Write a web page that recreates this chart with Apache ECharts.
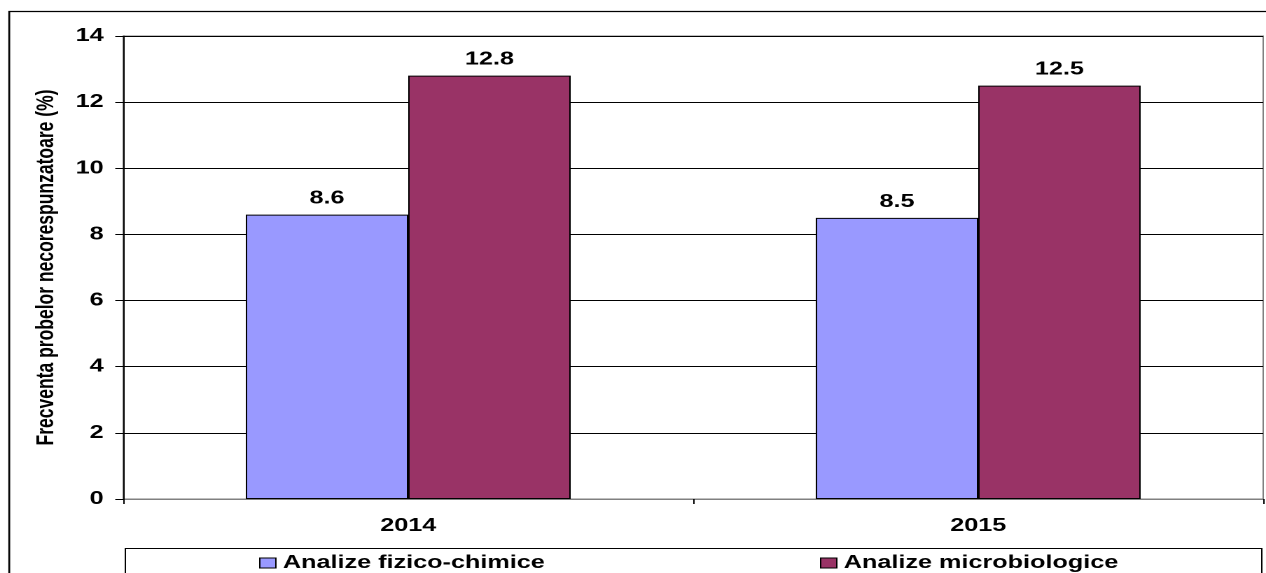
<!DOCTYPE html>
<html>
<head>
<meta charset="utf-8">
<script src="https://cdn.jsdelivr.net/npm/echarts@6/dist/echarts.min.js"></script>
<style>
  html, body { margin: 0; padding: 0; background: #fff; overflow: hidden; }
  /* the chart is laid out on a narrower canvas and widened to fill the page */
  #chart { width: 904px; height: 573px; transform: scaleX(1.400442); transform-origin: 0 0; }
</style>
</head>
<body>
<div id="chart"></div>
<script>
// Categories and series values
const years = ['2014', '2015'];
const fizicoChimice = [8.6, 8.5];
const microbiologice = [12.8, 12.5];
const seriesNames = ['Analize fizico-chimice', 'Analize microbiologice'];
const axisTitle = 'Frecventa probelor necorespunzatoare (%)';

const FONT = 'Arial, "Liberation Sans", sans-serif';
const chart = echarts.init(document.getElementById('chart'), null, { renderer: 'canvas', devicePixelRatio: 2 });

const labelStyle = {
  show: true,
  position: 'top',
  distance: 7,
  color: '#000',
  fontFamily: FONT,
  fontWeight: 'bold',
  fontSize: 18,
  formatter: p => p.value.toFixed(1)
};

const legendText = { fontFamily: FONT, fontWeight: 'bold', fontSize: 18, color: '#000' };

chart.setOption({
  animation: false,
  backgroundColor: '#fff',
  grid: { left: 88, top: 36, right: 2, bottom: 74, show: true, borderColor: '#808080', borderWidth: 1, backgroundColor: 'transparent' },
  graphic: [
    { type: 'rect', shape: { x: 6.6, y: 11.5, width: 1000, height: 700 }, style: { fill: 'none', stroke: '#000', lineWidth: 1.3 }, silent: true, z: -1 },
    { type: 'rect', shape: { x: 89.5, y: 548.5, width: 811.5, height: 60 }, style: { fill: 'none', stroke: '#000', lineWidth: 1 }, silent: true, z: -1 }
  ],
  legend: [
    {
      data: [seriesNames[0]], left: 185, top: 554, padding: 0, itemWidth: 11.5, itemHeight: 10, itemGap: 0,
      icon: 'rect', itemStyle: { borderColor: '#000', borderWidth: 1 }, textStyle: legendText
    },
    {
      data: [seriesNames[1]], left: 585.5, top: 554, padding: 0, itemWidth: 11.5, itemHeight: 10, itemGap: 0,
      icon: 'rect', itemStyle: { borderColor: '#000', borderWidth: 1 }, textStyle: legendText
    }
  ],
  xAxis: {
    type: 'category',
    data: years,
    axisLine: { show: true, lineStyle: { color: '#808080', width: 1 } },
    axisTick: { show: true, alignWithLabel: false, length: 5, lineStyle: { color: '#000' } },
    axisLabel: { color: '#000', fontFamily: FONT, fontWeight: 'bold', fontSize: 18, margin: 18 }
  },
  yAxis: {
    type: 'value',
    min: 0, max: 14, interval: 2,
    name: axisTitle,
    nameLocation: 'middle',
    nameGap: 46,
    nameRotate: 90,
    nameTextStyle: { color: '#000', fontFamily: FONT, fontWeight: 'bold', fontSize: 17.5 },
    axisLine: { show: true, lineStyle: { color: '#000', width: 1 } },
    axisTick: { show: true, inside: false, length: 5.7, lineStyle: { color: '#000' } },
    axisLabel: { color: '#000', fontFamily: FONT, fontWeight: 'bold', fontSize: 18, margin: 14 },
    splitLine: { show: true, lineStyle: { color: '#000', width: 1 } }
  },
  series: [
    {
      name: seriesNames[0], type: 'bar', data: fizicoChimice,
      barGap: '0%', barCategoryGap: '43%',
      itemStyle: { color: '#9999FF', borderColor: '#000', borderWidth: 1 },
      label: labelStyle
    },
    {
      name: seriesNames[1], type: 'bar', data: microbiologice,
      barGap: '0%', barCategoryGap: '43%',
      itemStyle: { color: '#993366', borderColor: '#000', borderWidth: 1 },
      label: labelStyle
    }
  ]
});
</script>
</body>
</html>
